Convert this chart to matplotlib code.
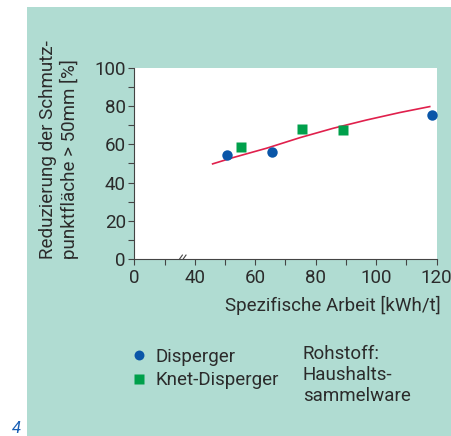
import numpy as np
import matplotlib
matplotlib.use("Agg")
import matplotlib.pyplot as plt
from matplotlib.patches import Rectangle
from matplotlib.lines import Line2D

plt.rcParams['font.family'] = ['Roboto', 'DejaVu Sans']

# Messwerte
disp_x = [50.5, 65.7, 118.3]
disp_y = [54.5, 56.2, 75.3]
knet_x = [55.3, 75.3, 88.9]
knet_y = [58.5, 68.0, 67.4]
# Ausgleichskurve
fit_x = [45.9, 52.7, 63.8, 74.8, 85.8, 96.8, 107.8, 117.7]
fit_y = [49.8, 53.1, 58.0, 63.5, 68.4, 72.7, 76.6, 79.7]

x_ticks = [0, 40, 60, 80, 100, 120]
x_minor = [20, 50, 70, 90, 110]
y_ticks = [0, 20, 40, 60, 80, 100]
y_minor = [10, 30, 50, 70, 90]

TEAL = '#b0dcd2'
TXT = '#2b2b2b'
BLUE = '#0a56a8'
GREEN = '#00a04b'
RED = '#e0204c'
FS = 13.5


# unterbrochene x-Achse: 0..40 auf halbe Breite gestaucht
def fwd(x):
    x = np.asarray(x, dtype=float)
    return np.where(x >= 40, x - 20, x / 2)


def inv(u):
    u = np.asarray(u, dtype=float)
    return np.where(u >= 20, u + 20, u * 2)


fig = plt.figure(figsize=(4.52, 4.36), dpi=100)
fig.patch.set_facecolor('white')
fig.patches.append(Rectangle((27 / 452, 0), 1, 1 - 7 / 436, transform=fig.transFigure,
                             facecolor=TEAL, edgecolor='none', zorder=-10))

ax = fig.add_axes([134.3 / 452, 176.7 / 436, 302.4 / 452, 191.6 / 436])
ax.set_facecolor('white')
ax.set_xscale('function', functions=(fwd, inv))
ax.set_xlim(0, 120)
ax.set_ylim(0, 100)

ax.plot(fit_x, fit_y, color=RED, lw=1.2, zorder=2)
ax.plot(disp_x, disp_y, 'o', color=BLUE, ms=7.5, mec='none', zorder=3, label='Disperger')
ax.plot(knet_x, knet_y, 's', color=GREEN, ms=7.2, mec='none', zorder=3, label='Knet-Disperger')

ax.set_xticks(x_ticks)
ax.set_xticklabels([str(t) for t in x_ticks])
ax.set_xticks(x_minor, minor=True)
ax.set_yticks(y_ticks)
ax.set_yticks(y_minor, minor=True)

for s in ['top', 'right']:
    ax.spines[s].set_visible(False)
for s in ['left', 'bottom']:
    ax.spines[s].set_color('#444444')
    ax.spines[s].set_linewidth(0.8)

ax.tick_params(which='both', direction='out', length=4, width=0.8, color='#444444')
ax.tick_params(axis='both', which='major', labelsize=FS, labelcolor=TXT)
ax.tick_params(axis='x', pad=3)
ax.tick_params(axis='y', pad=2)

# Bruchzeichen auf der x-Achse
trans = ax.get_xaxis_transform()
for x0, x1 in [(29.8, 31.8), (32.2, 34.2)]:
    ax.add_line(Line2D([x0, x1], [0.0, 0.022], transform=trans, color='#444444',
                       lw=0.8, clip_on=False))

fig.text(59 / 452, 1 - 259 / 436, 'Reduzierung der Schmutz-\npunktfläche > 50mm [%]',
         rotation=90, ha='center', va='bottom', multialignment='left',
         fontsize=FS, color=TXT, linespacing=1.15)
fig.text(441 / 452, 1 - 311 / 436, 'Spezifische Arbeit [kWh/t]',
         ha='right', va='baseline', fontsize=FS, color=TXT)

leg = ax.legend(loc='upper left', bbox_to_anchor=(131 / 452, 1 - 348 / 436),
                bbox_transform=fig.transFigure, frameon=False, fontsize=FS,
                handlelength=0.8, handletextpad=0.5, borderpad=0, borderaxespad=0,
                labelspacing=0.28, markerscale=0.95)
for t in leg.get_texts():
    t.set_color(TXT)

fig.text(303 / 452, 1 - 345 / 436, 'Rohstoff:\nHaushalts-\nsammelware',
         ha='left', va='top', fontsize=FS, color=TXT, linespacing=1.2)
fig.text(12 / 452, 1 - 433 / 436, '4', ha='left', va='baseline', fontsize=12,
         color='#1a5fb4', style='italic')

fig.savefig('out.png', dpi=100, facecolor=fig.get_facecolor())
